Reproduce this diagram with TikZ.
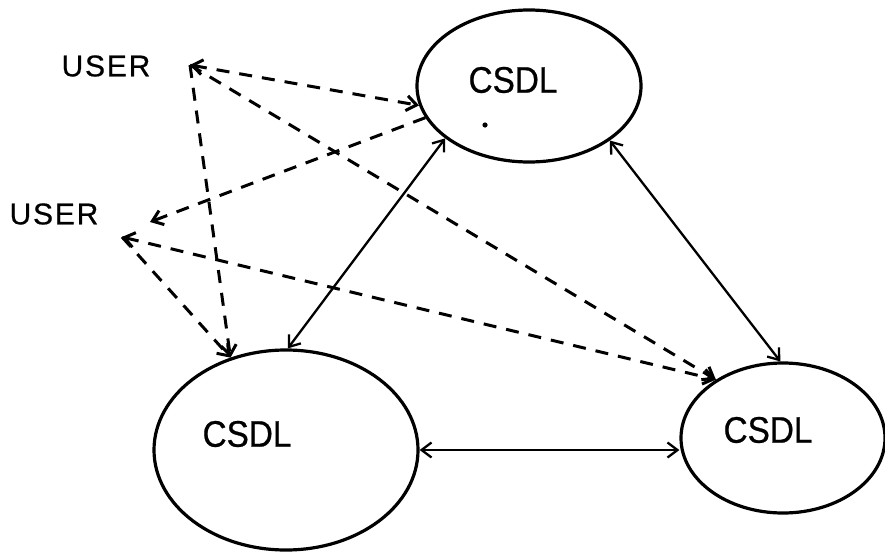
\documentclass[tikz,border=0pt]{standalone}
\usepackage{fontspec}
\usetikzlibrary{shapes.geometric,arrows.meta}
\newfontfamily\labelfont[FakeStretch=0.9,FakeBold=0.6]{Liberation Sans}
\newfontfamily\userfont[LetterSpace=6,FakeBold=0.6]{Liberation Sans}
\tikzset{
  csdl/.style={ellipse, draw, line width=3.2pt, inner sep=0pt},
  lbl/.style={font=\labelfont\fontsize{37}{37}\selectfont, inner sep=0pt},
  usr/.style={font=\userfont\fontsize{30}{30}\selectfont, inner sep=0pt},
  link/.style={line width=2.3pt},
  dlink/.style={line width=3pt, dash pattern=on 13pt off 10pt},
  >={Straight Barb[length=10pt,width=15pt]}
}
\begin{document}
\begin{tikzpicture}[x=1pt,y=-1pt]
  \useasboundingbox[fill=white] (0,0) rectangle (885,551);

  % the three databases
  \node[csdl, minimum width=224pt, minimum height=152pt] (T)  at (529,86)  {};
  \node[csdl, minimum width=264pt, minimum height=200pt] (BL) at (286,450) {};
  \node[csdl, minimum width=204pt, minimum height=150pt] (BR) at (783,438) {};

  \node[lbl] (tT)  at (513,80)  {CSDL};
  \node[lbl] (tBL) at (247,434) {CSDL};
  \node[lbl] (tBR) at (768,430) {CSDL};
  \fill (485,125) circle (2.6pt);

  % users
  \node[usr] (user1) at (106,66)  {USER};
  \node[usr] (user2) at (54,214)  {USER};
  \coordinate (u1)  at (190,65);
  \coordinate (u2)  at (122,237);
  \coordinate (u2a) at (150,222);

  % links between databases
  \draw[link,<->] (T.212) -- (BL.89);
  \draw[link,<->] (T.326) -- (BR.92);
  \draw[link,<->] (BL.east) -- (BL.east -| BR.west);

  % user access paths
  \draw[dlink,<->] (u1) -- (T.190);
  \draw[dlink,->]  (u1) -- (BL.121);
  \draw[dlink,->]  (u1) -- (BR.139);
  \draw[dlink,->]  (T.197) -- (u2a);
  \draw[dlink,->]  (u2) -- (BL.121);
  \draw[dlink,<->] (u2) -- (BR.139);
\end{tikzpicture}
\end{document}
